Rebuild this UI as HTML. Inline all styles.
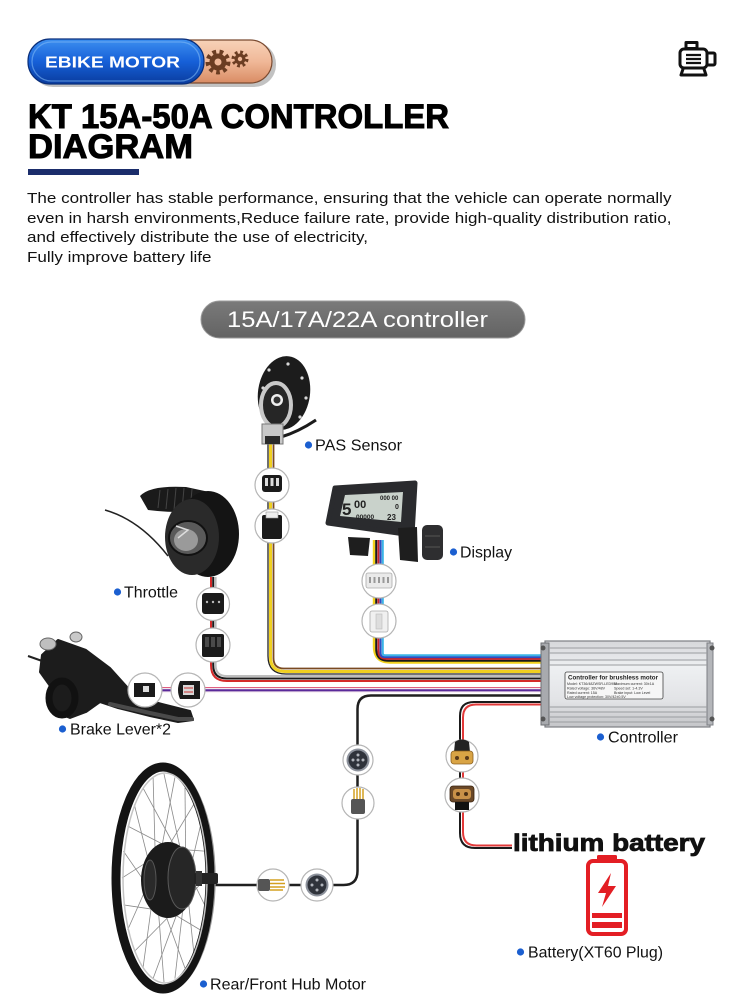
<!DOCTYPE html>
<html><head><meta charset="utf-8"><style>
html,body{margin:0;padding:0;background:#fff;}
body{width:742px;height:1000px;overflow:hidden;position:relative;font-family:"Liberation Sans",Arial,sans-serif;}
.para{position:absolute;left:27px;top:189px;font-size:15px;line-height:19.6px;color:#111;white-space:nowrap;transform:scaleX(1.135);transform-origin:0 0;}
svg{position:absolute;left:0;top:0;}
</style></head><body>
<svg width="742" height="1000" viewBox="0 0 742 1000" xmlns="http://www.w3.org/2000/svg" font-family="'Liberation Sans', Arial, sans-serif">
<defs>
<linearGradient id="gBlue" x1="0" y1="0" x2="0" y2="1"><stop offset="0" stop-color="#3d8ff0"/><stop offset=".5" stop-color="#1660d8"/><stop offset="1" stop-color="#0a3c9e"/></linearGradient>
<linearGradient id="gOr" x1="0" y1="0" x2="0" y2="1"><stop offset="0" stop-color="#f7d2b8"/><stop offset=".5" stop-color="#f0b898"/><stop offset="1" stop-color="#d98c64"/></linearGradient>
<linearGradient id="gPill" x1="0" y1="0" x2="0" y2="1"><stop offset="0" stop-color="#7a7a7a"/><stop offset="1" stop-color="#636363"/></linearGradient>
<linearGradient id="gCtl" x1="0" y1="0" x2="0" y2="1"><stop offset="0" stop-color="#d6d7da"/><stop offset=".3" stop-color="#eef0f2"/><stop offset=".7" stop-color="#e2e3e6"/><stop offset="1" stop-color="#c4c5c8"/></linearGradient>
</defs>

<!-- header pill -->
<rect x="31" y="42" width="245" height="45" rx="22" fill="#777" opacity=".45"/>
<rect x="150" y="40" width="122" height="43" rx="21.5" fill="url(#gOr)" stroke="#7a4a30" stroke-width="1.2"/>
<rect x="28" y="39" width="176" height="45" rx="22" fill="url(#gBlue)" stroke="#0a2f7a" stroke-width="1.2"/>
<rect x="32" y="42" width="168" height="39" rx="19.5" fill="none" stroke="#7db8f5" stroke-width="1.3" opacity=".6"/>
<text x="45" y="67.5" font-size="16" font-weight="bold" fill="#fff" textLength="135" lengthAdjust="spacingAndGlyphs">EBIKE MOTOR</text>
<g fill="#6b3d22">
<circle cx="218" cy="62" r="10" fill="none" stroke="#6b3d22" stroke-width="5" stroke-dasharray="3.6 3.3"/>
<circle cx="218" cy="62" r="8.5"/>
<circle cx="218" cy="62" r="3.5" fill="#efb898"/>
<circle cx="240" cy="59" r="6.5" fill="none" stroke="#6b3d22" stroke-width="4" stroke-dasharray="2.6 2.5"/>
<circle cx="240" cy="59" r="5.5"/>
<circle cx="240" cy="59" r="2.2" fill="#efb898"/>
</g>

<!-- top right motor icon -->
<g fill="none" stroke="#111" stroke-width="3" stroke-linejoin="round">
<rect x="686" y="42.5" width="11" height="6"/>
<rect x="680" y="49" width="27" height="19" rx="4"/>
<rect x="707" y="53" width="8" height="12" rx="1.5"/>
<path d="M683 69 L681 75 L706 75 L704 69"/>
<path d="M686 55 H701 M686 59 H701 M686 63 H701" stroke-width="2.3"/>
</g>

<!-- title -->
<text x="28" y="128" font-size="34" font-weight="bold" fill="#000" stroke="#000" stroke-width="1" textLength="421" lengthAdjust="spacingAndGlyphs">KT 15A-50A CONTROLLER</text>
<text x="28" y="158" font-size="34" font-weight="bold" fill="#000" stroke="#000" stroke-width="1" textLength="165" lengthAdjust="spacingAndGlyphs">DIAGRAM</text>
<rect x="28" y="169" width="111" height="6" fill="#1b2d6b"/>

<!-- gray pill -->
<rect x="201" y="301" width="324" height="37" rx="18.5" fill="url(#gPill)" stroke="#9a9a9a" stroke-width="1"/>
<text x="227" y="327" font-size="22.5" fill="#fff" textLength="261" lengthAdjust="spacingAndGlyphs">15A/17A/22A controller</text>

<!-- ===== WIRES ===== -->
<g fill="none" stroke-linecap="butt">
<path d="M374 540 L374 646.5 Q374 662.5 390 662.5 L548 662.5" stroke="#f2d21c" stroke-width="2.4"/>
<path d="M376.2 540 L376.2 648.7 Q376.2 660.7 388.2 660.7 L548 660.7" stroke="#1a1a1a" stroke-width="2"/>
<path d="M378.4 540 L378.4 650.9 Q378.4 658.9 386.4 658.9 L548 658.9" stroke="#c9242c" stroke-width="2"/>
<path d="M380.6 540 L380.6 653.1 Q380.6 657.1 384.6 657.1 L548 657.1" stroke="#2b4fc4" stroke-width="2"/>
<path d="M382.8 540 L382.8 653.3 Q382.8 655.3 384.8 655.3 L548 655.3" stroke="#3ab4e6" stroke-width="2"/>
<path d="M268 440 L268 656 Q268 674 286 674 L548 674" stroke="#222" stroke-width="1.3"/>
<path d="M270.5 440 L270.5 657 Q270.5 671.5 285 671.5 L548 671.5" stroke="#f0d020" stroke-width="3"/>
<path d="M273.5 440 L273.5 658 Q273.5 668.5 284 668.5 L548 668.5" stroke="#7a4a22" stroke-width="1.8"/>
<path d="M211 577 L211 665 Q211 681 227 681 L548 681" stroke="#d42a2a" stroke-width="2"/>
<path d="M213.2 577 L213.2 665 Q213.2 678.5 226.7 678.5 L548 678.5" stroke="#1a1a1a" stroke-width="2"/>
<path d="M215.6 577 L215.6 665 Q215.6 676 226.6 676 L548 676" stroke="#bdbdbd" stroke-width="2"/>
<path d="M128 690 L548 690" stroke="#f4e6ee" stroke-width="5"/>
<path d="M128 687.5 L548 687.5" stroke="#e06080" stroke-width="1"/>
<path d="M128 690.3 L548 690.3" stroke="#5a2a9a" stroke-width="2.2"/>
<path d="M548 695.5 L371 695.5 Q357.5 695.5 357.5 709 L357.5 871 Q357.5 885 343.5 885 L212 885" stroke="#1f1f1f" stroke-width="2.5"/>
<path d="M548 702 L474 702 Q460 702 460 716 L460 833 Q460 848 475 848 L512 848" stroke="#1a1a1a" stroke-width="2"/>
<path d="M548 704.5 L476 704.5 Q463 704.5 463 717.5 L463 832 Q463 845.5 476.5 845.5 L512 845.5" stroke="#e23a3a" stroke-width="2"/>
</g>

<!-- ===== CONTROLLER ===== -->
<rect x="545" y="641" width="165" height="86" fill="url(#gCtl)" stroke="#7d7f84" stroke-width="1.2"/>
<rect x="541" y="643" width="8" height="82" fill="#a8aaae" stroke="#6d6f73" stroke-width="1"/>
<rect x="707" y="643" width="6" height="82" fill="#b4b6ba" stroke="#7d7f84" stroke-width="1"/>
<circle cx="543" cy="648" r="2.5" fill="#555"/><circle cx="543" cy="719" r="2.5" fill="#555"/>
<circle cx="712" cy="648" r="2.5" fill="#555"/><circle cx="712" cy="719" r="2.5" fill="#555"/>
<g stroke="#9a9ca0" stroke-width="1">
<path d="M549 648 H707 M549 653 H707 M549 660 H707 M549 665 H707 M549 707 H707 M549 712 H707 M549 717 H707 M549 722 H707"/>
</g>
<rect x="565" y="672" width="98" height="27" rx="2" fill="#f6f6f6" stroke="#444" stroke-width="0.8"/>
<text x="568" y="679.5" font-size="6.6" font-weight="bold" fill="#222" textLength="90" lengthAdjust="spacingAndGlyphs">Controller for brushless motor</text>
<g font-size="3.6" fill="#333">
<text x="567" y="685">Model: KT36/48ZWSR-LED900</text><text x="614" y="685">Maximum current: 30±1A</text>
<text x="567" y="689.5">Rated voltage: 36V/48V</text><text x="614" y="689.5">Speed set: 1-4.3V</text>
<text x="567" y="694">Rated current: 15A</text><text x="614" y="694">Brake input: Low Level</text>
<text x="567" y="698">Low voltage protection: 30V/42±0.5V</text>
</g>

<!-- ===== PAS SENSOR ===== -->
<path d="M281 437 Q298 432 316 420" fill="none" stroke="#1b1b1b" stroke-width="3"/>
<ellipse cx="284" cy="393" rx="26" ry="37" fill="#1c1c1c" transform="rotate(8 284 393)"/>
<g fill="#d8d8d8"><circle cx="288" cy="364" r="1.6"/><circle cx="302" cy="378" r="1.6"/><circle cx="306" cy="398" r="1.6"/><circle cx="300" cy="417" r="1.6"/><circle cx="269" cy="370" r="1.6"/><circle cx="263" cy="388" r="1.6"/></g>
<ellipse cx="276" cy="405" rx="15" ry="22" fill="#262626" stroke="#c9c9c9" stroke-width="4"/>
<circle cx="277" cy="400" r="6" fill="#eee"/><circle cx="277" cy="400" r="3.5" fill="#333"/>
<path d="M262 424 L283 424 L283 444 L262 444 Z" fill="#c8c8c8" stroke="#777" stroke-width="1"/>
<rect x="265" y="436" width="15" height="8" fill="#2a2a2a"/>

<!-- ===== THROTTLE ===== -->
<path d="M105 510 Q140 520 168 556" fill="none" stroke="#222" stroke-width="1.5"/>
<path d="M140 496 Q150 485 186 487 L214 493 L208 512 Q172 513 148 510 Z" fill="#1a1a1a"/>
<g stroke="#444" stroke-width="1"><path d="M160 490 L158 508 M168 489 L166 509 M176 488 L174 510 M184 488 L182 510 M192 489 L190 511"/></g>
<ellipse cx="208" cy="534" rx="31" ry="43" fill="#141414"/>
<ellipse cx="192" cy="537" rx="27" ry="38" fill="#2a2a2a"/>
<ellipse cx="188" cy="538" rx="19" ry="17" fill="#5a5a5a" stroke="#111" stroke-width="2"/>
<ellipse cx="186" cy="540" rx="12" ry="11" fill="#9a9a9a"/>
<path d="M176 526 L188 530 L178 538" fill="none" stroke="#ddd" stroke-width="1.5"/>

<!-- ===== BRAKE LEVER ===== -->
<path d="M28 656 L45 662" stroke="#222" stroke-width="2" fill="none"/>
<path d="M42 655 L58 640 L86 650 L110 668 L128 688 L140 698 L162 704 L190 711 L193 720 L178 722 L150 716 L118 708 L100 702 L86 712 L70 718 L55 712 L48 700 L50 686 L40 672 Z" fill="#1c1c1c" stroke="#1c1c1c" stroke-width="2" stroke-linejoin="round"/>
<path d="M110 704 L150 713 L178 719 L192 719" stroke="#4a4a4a" stroke-width="4" fill="none" stroke-linecap="round"/>
<ellipse cx="62" cy="698" rx="13" ry="17" fill="none" stroke="#111" stroke-width="7"/>
<ellipse cx="48" cy="644" rx="8" ry="6" fill="#bfbfbf" stroke="#666" stroke-width="1"/>
<ellipse cx="76" cy="637" rx="6" ry="5" fill="#c9c9c9" stroke="#666" stroke-width="1"/>

<!-- ===== DISPLAY ===== -->
<path d="M335 488 L415 483 L412 535 L328 523 Z" fill="#2a2b2e" stroke="#2a2b2e" stroke-width="5" stroke-linejoin="round"/>
<path d="M345 495 L403 492 L401 522 L340 516 Z" fill="#c9d2cb"/>
<g fill="#222" font-weight="bold">
<text x="342" y="515" font-size="17">5</text>
<text x="354" y="508" font-size="11">00</text>
<text x="356" y="519" font-size="6.5">00000</text>
<text x="387" y="520" font-size="8">23</text>
<text x="380" y="500" font-size="6">000 00</text>
<text x="395" y="509" font-size="7">0</text>
</g>
<path d="M348 537 L370 538 L368 556 L350 555 Z" fill="#1e1e1e"/>
<path d="M398 528 L417 527 L418 562 L400 560 Z" fill="#1e1e1e"/>
<rect x="422" y="525" width="21" height="35" rx="5" fill="#2e2e30"/>
<g stroke="#555" stroke-width="1"><path d="M425 536 H440 M425 547 H440"/></g>

<!-- ===== CONNECTORS ===== -->
<g stroke="#b5b5b5" stroke-width="1.2" fill="#fff">
<circle cx="272" cy="485" r="17"/><circle cx="272" cy="526" r="17"/>
<circle cx="213" cy="604" r="16.5"/><circle cx="213" cy="645" r="17"/>
<circle cx="379" cy="581" r="17"/><circle cx="379" cy="621" r="17"/>
<circle cx="145" cy="690" r="17"/><circle cx="188" cy="690" r="17"/>
<circle cx="358" cy="760" r="15"/><circle cx="358" cy="803" r="16"/>
<circle cx="273" cy="885" r="16"/><circle cx="317" cy="885" r="16"/>
<circle cx="462" cy="756" r="16"/><circle cx="462" cy="795" r="17"/>
</g>
<rect x="262" y="475" width="20" height="17" rx="3" fill="#1b1b1b"/>
<g fill="#ddd"><rect x="265" y="478" width="3" height="8"/><rect x="270.5" y="478" width="3" height="8"/><rect x="276" y="478" width="3" height="8"/></g>
<rect x="262" y="515" width="20" height="24" rx="2" fill="#1b1b1b"/>
<rect x="266" y="512" width="12" height="6" fill="#eee" stroke="#999" stroke-width=".6"/>
<rect x="202" y="593" width="22" height="21" rx="3" fill="#1b1b1b"/>
<g fill="#bbb"><circle cx="207" cy="602" r="1.2"/><circle cx="213" cy="602" r="1.2"/><circle cx="219" cy="602" r="1.2"/></g>
<rect x="202" y="634" width="22" height="23" rx="2" fill="#1b1b1b"/>
<g fill="#4a4a4a"><rect x="205" y="637" width="4" height="10"/><rect x="211" y="637" width="4" height="10"/><rect x="217" y="637" width="4" height="10"/></g>
<rect x="366" y="573" width="26" height="15" rx="2" fill="#eaeaea" stroke="#aaa" stroke-width=".8"/>
<g fill="#999"><rect x="369" y="577" width="2" height="6"/><rect x="373.5" y="577" width="2" height="6"/><rect x="378" y="577" width="2" height="6"/><rect x="382.5" y="577" width="2" height="6"/><rect x="387" y="577" width="2" height="6"/></g>
<rect x="370" y="611" width="18" height="21" rx="2" fill="#f0f0f0" stroke="#aaa" stroke-width=".8"/>
<rect x="376" y="614" width="6" height="15" fill="#ddd" stroke="#bbb" stroke-width=".6"/>
<rect x="134" y="683" width="21" height="14" fill="#1a1a1a"/>
<rect x="143" y="686" width="6" height="6" fill="#ddd"/>
<path d="M200 681 L180 681 Q176 690 180 699 L200 699" fill="#1a1a1a"/>
<rect x="183" y="685" width="11" height="10" fill="#d8d8d8"/>
<path d="M184 688 H193 M184 692 H193" stroke="#c33" stroke-width="1"/>
<circle cx="358" cy="760" r="10.5" fill="#2f333b" stroke="#8d929c" stroke-width="2"/>
<g fill="#b0b4bb"><circle cx="358" cy="755" r="1.5"/><circle cx="353" cy="760" r="1.5"/><circle cx="363" cy="760" r="1.5"/><circle cx="358" cy="765" r="1.5"/><circle cx="358" cy="760" r="1.5"/></g>
<g stroke="#d4a020" stroke-width="1.5"><path d="M354 789 L354 800 M357 788 L357 800 M360 788 L360 800 M363 789 L363 800"/></g>
<rect x="351" y="799" width="14" height="15" rx="2" fill="#555"/>
<rect x="258" y="879" width="12" height="12" rx="2" fill="#555"/>
<g stroke="#d4a020" stroke-width="1.5"><path d="M270 880 L284 880 M270 883.5 L285 883.5 M270 887 L285 887 M270 890 L283 890"/></g>
<circle cx="317" cy="885" r="10.5" fill="#2f333b" stroke="#8d929c" stroke-width="2"/>
<g fill="#b0b4bb"><circle cx="317" cy="880" r="1.5"/><circle cx="312" cy="885" r="1.5"/><circle cx="322" cy="885" r="1.5"/><circle cx="317" cy="890" r="1.5"/></g>
<path d="M455 742 Q462 737 469 742 L470 752 L454 752 Z" fill="#222"/>
<rect x="451" y="751" width="22" height="13" rx="3" fill="#d9a445" stroke="#8a6020" stroke-width=".8"/>
<circle cx="457" cy="758" r="2" fill="#5a3a1a"/><circle cx="467" cy="758" r="2" fill="#5a3a1a"/>
<rect x="450" y="786" width="24" height="16" rx="3" fill="#6a4828" stroke="#3a2410" stroke-width=".8"/>
<rect x="453" y="789" width="18" height="10" rx="3" fill="#c89048"/>
<circle cx="458" cy="794" r="2" fill="#4a2e14"/><circle cx="466" cy="794" r="2" fill="#4a2e14"/>
<rect x="455" y="802" width="14" height="8" fill="#111"/>

<!-- ===== WHEEL ===== -->
<g stroke="#8a8a8a" stroke-width="0.8">
<line x1="206" y1="878" x2="180.3" y2="906"/><line x1="204.6" y1="904.9" x2="183.1" y2="860.5"/>
<line x1="200.4" y1="930" x2="172.8" y2="913.5"/><line x1="193.7" y1="951.5" x2="185.9" y2="877"/>
<line x1="185" y1="968.1" x2="164.5" y2="912"/><line x1="174.9" y1="978.5" x2="184.5" y2="894.4"/>
<line x1="164" y1="982" x2="157.7" y2="901.9"/><line x1="153.1" y1="978.5" x2="179.2" y2="907.8"/>
<line x1="143" y1="968.1" x2="154.2" y2="885.9"/><line x1="134.3" y1="951.5" x2="171.4" y2="913.9"/>
<line x1="127.6" y1="930" x2="155" y2="868.4"/><line x1="123.4" y1="904.9" x2="163.2" y2="910.8"/>
<line x1="122" y1="878" x2="159.7" y2="854"/><line x1="123.4" y1="851.1" x2="156.9" y2="899.5"/>
<line x1="127.6" y1="826" x2="167.2" y2="846.5"/><line x1="134.3" y1="804.5" x2="154.1" y2="883"/>
<line x1="143" y1="787.9" x2="175.5" y2="848"/><line x1="153.1" y1="777.5" x2="155.5" y2="865.6"/>
<line x1="164" y1="774" x2="182.3" y2="858.1"/><line x1="174.9" y1="777.5" x2="160.8" y2="852.2"/>
<line x1="185" y1="787.9" x2="185.8" y2="874.1"/><line x1="193.7" y1="804.5" x2="168.6" y2="846.1"/>
<line x1="200.4" y1="826" x2="185" y2="891.6"/><line x1="204.6" y1="851.1" x2="176.8" y2="849.2"/>
</g>
<ellipse cx="164" cy="878" rx="51" ry="114" fill="none" stroke="#9a9a9a" stroke-width="1.5"/>
<ellipse cx="163" cy="878" rx="47" ry="111" fill="none" stroke="#141414" stroke-width="9"/>
<ellipse cx="165" cy="878" rx="42" ry="105" fill="none" stroke="#c4c4c4" stroke-width="1.5"/>
<ellipse cx="168" cy="880" rx="27" ry="38" fill="#1b1b1b"/>
<ellipse cx="182" cy="878" rx="14" ry="31" fill="#262626" stroke="#5a5a5a" stroke-width="1"/>
<ellipse cx="150" cy="880" rx="6" ry="20" fill="#2a2a2a" stroke="#555" stroke-width="1"/>
<rect x="194" y="873" width="24" height="11" rx="2" fill="#222"/>
<rect x="196" y="871" width="6" height="15" fill="#333"/>

<!-- ===== BATTERY ===== -->
<text x="513" y="851" font-size="24" font-weight="bold" fill="#111" stroke="#111" stroke-width="0.8" textLength="192" lengthAdjust="spacingAndGlyphs">lithium battery</text>
<rect x="597" y="855" width="20" height="7" rx="1.5" fill="#e31e24"/>
<rect x="588" y="861" width="38" height="73" rx="5" fill="none" stroke="#e31e24" stroke-width="4"/>
<path d="M611 873 L598 893 L606 893 L602 907 L616 886 L608 886 Z" fill="#e31e24"/>
<rect x="592" y="913" width="30" height="5" fill="#e31e24"/>
<rect x="592" y="922" width="30" height="6" fill="#e31e24"/>

<!-- ===== LABELS ===== -->
<g fill="#1b5fd0">
<circle cx="308.5" cy="445" r="3.6"/><circle cx="453.5" cy="552" r="3.6"/><circle cx="117.5" cy="592" r="3.6"/>
<circle cx="62.5" cy="729" r="3.6"/><circle cx="600.5" cy="737" r="3.6"/><circle cx="520.5" cy="952" r="3.6"/>
<circle cx="203.5" cy="984" r="3.6"/>
</g>
<g font-size="16" fill="#111">
<text x="315" y="450.5" textLength="87" lengthAdjust="spacingAndGlyphs">PAS Sensor</text>
<text x="460" y="557.5" textLength="52" lengthAdjust="spacingAndGlyphs">Display</text>
<text x="124" y="597.5" textLength="54" lengthAdjust="spacingAndGlyphs">Throttle</text>
<text x="70" y="734.5" textLength="101" lengthAdjust="spacingAndGlyphs">Brake Lever*2</text>
<text x="608" y="742.5" textLength="70" lengthAdjust="spacingAndGlyphs">Controller</text>
<text x="528" y="957.5" textLength="135" lengthAdjust="spacingAndGlyphs">Battery(XT60 Plug)</text>
<text x="210" y="989.5" textLength="156" lengthAdjust="spacingAndGlyphs">Rear/Front Hub Motor</text>
</g>
</svg>
<div class="para">The controller has stable performance, ensuring that the vehicle can operate normally<br>even in harsh environments,Reduce failure rate, provide high-quality distribution ratio,<br>and effectively distribute the use of electricity,<br>Fully improve battery life</div>
</body></html>
